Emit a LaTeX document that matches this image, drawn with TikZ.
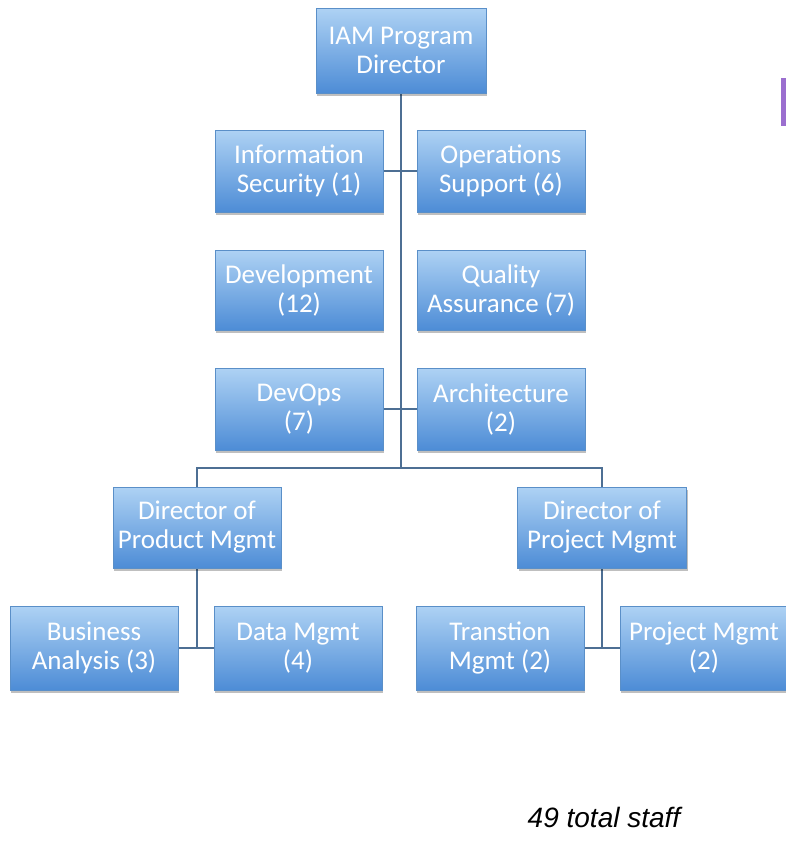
\documentclass[tikz,border=0pt]{standalone}
\usepackage{fontspec}
\setmainfont{Carlito}
\newfontfamily\arialfont{Liberation Sans}
\usetikzlibrary{shadows,backgrounds}
\definecolor{boxtop}{HTML}{AED2F4}
\definecolor{boxbot}{HTML}{4D8CD6}
\definecolor{boxline}{HTML}{5A8FC8}
\definecolor{conn}{HTML}{4D6F94}
\definecolor{purp}{HTML}{9B6FCF}
\tikzset{
  orgbox/.style={rectangle, minimum width=168pt, minimum height=82pt, inner sep=0pt,
    top color=boxtop, bottom color=boxbot, draw=boxline, line width=0.6pt,
    text=white, align=center, font=\fontsize{27}{29}\selectfont,
    drop shadow={shadow xshift=1pt, shadow yshift=-3pt, fill=black, opacity=0.25}},
  conn/.style={draw=conn, line width=2pt}
}
\begin{document}
\begin{tikzpicture}[x=1pt,y=-1pt]
\useasboundingbox (0,0) rectangle (786,852);
\fill[purp] (781,78) rectangle (790,126);
\coordinate (bm) at (401,468);
\node[orgbox, minimum width=170pt, minimum height=85pt] (iam) at (401,50.5) {IAM Program\\Director};
\node[orgbox] (infosec) at (299,171) {Information\\Security (1)};
\node[orgbox] (ops) at (501,171) {Operations\\Support (6)};
\node[orgbox, minimum height=80pt] (dev) at (299,290) {Development\\(12)};
\node[orgbox, minimum height=80pt] (qa) at (501,290) {Quality\\Assurance (7)};
\node[orgbox] (devops) at (299,409) {DevOps\\(7)};
\node[orgbox] (arch) at (501,409) {Architecture\\(2)};
\node[orgbox, minimum height=81pt] (dprod) at (197,527.5) {Director of\\Product Mgmt};
\node[orgbox, minimum width=169pt, minimum height=81pt] (dproj) at (602,527.5) {Director of\\Project Mgmt};
\node[orgbox, minimum height=84pt] (ba) at (94,648) {Business\\Analysis (3)};
\node[orgbox, minimum height=84pt] (data) at (298,648) {Data Mgmt\\(4)};
\node[orgbox, minimum height=84pt] (trans) at (500,648) {Transtion\\Mgmt (2)};
\node[orgbox, minimum height=84pt] (pm) at (704,648) {Project Mgmt\\(2)};
\begin{pgfonlayer}{background}
\draw[conn] (iam.south) -- (bm);
\draw[conn] (infosec.east) -- (ops.west);
\draw[conn] (devops.east) -- (arch.west);
\draw[conn] (dprod.north) -- (dprod.north |- bm) -- (dproj.north |- bm) -- (dproj.north);
\draw[conn] (dprod.south) -- (dprod.south |- ba.east);
\draw[conn] (ba.east) -- (data.west);
\draw[conn] (dproj.south) -- (dproj.south |- trans.east);
\draw[conn] (trans.east) -- (pm.west);
\end{pgfonlayer}
\node[font=\arialfont\itshape\fontsize{28}{32}\selectfont, text=black] (total) at (604,817) {49 total staff};
\end{tikzpicture}
\end{document}
